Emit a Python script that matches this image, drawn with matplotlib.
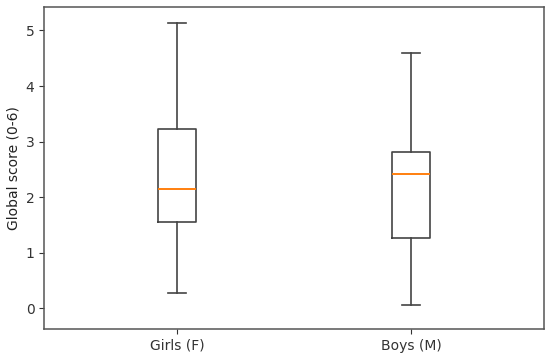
import matplotlib
matplotlib.use("Agg")
import matplotlib.pyplot as plt

# Box statistics
groups = ["Girls (F)", "Boys (M)"]
whislo = [0.27, 0.06]
q1 = [1.56, 1.27]
med = [2.15, 2.41]
q3 = [3.23, 2.81]
whishi = [5.13, 4.60]

stats = [dict(label=g, whislo=lo, q1=a, med=m, q3=b, whishi=hi, fliers=[])
         for g, lo, a, m, b, hi in zip(groups, whislo, q1, med, q3, whishi)]

line = dict(color="#444444", lw=1.2)
fig = plt.figure(figsize=(5.5, 3.58), dpi=100)
ax = fig.add_axes([0.0805, 0.081, 0.908, 0.899])
ax.bxp(stats, positions=[1, 2], widths=0.16,
       boxprops=line, whiskerprops=line, capprops=line,
       medianprops=dict(color="#ff7f0e", lw=1.4))
ax.set_xlim(0.433, 2.567)
ax.set_ylim(-0.373, 5.42)
for s in ax.spines.values():
    s.set_color("#555555")
    s.set_linewidth(1.1)
ax.tick_params(colors="#333333", labelsize=10)
ax.set_ylabel("Global score (0-6)", color="#222222")
fig.savefig("out.png", dpi=100)
